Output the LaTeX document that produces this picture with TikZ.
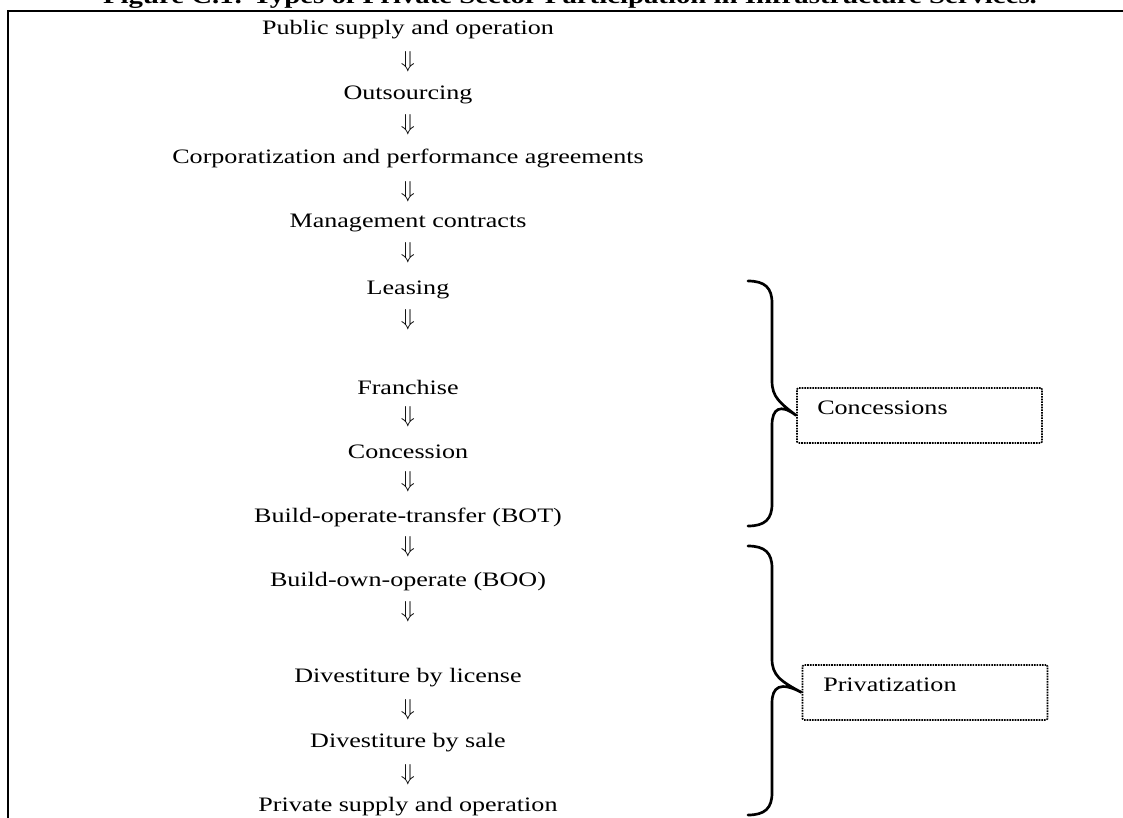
\documentclass[tikz,border=0pt]{standalone}
\usepackage{fontspec}
\setmainfont{Liberation Serif}[FakeStretch=1.27]
\begin{document}
\begin{tikzpicture}[x=0.75pt,y=-0.75pt,
  item/.style={inner sep=0pt, font=\fontsize{15.4}{18}\selectfont},
  arr/.style={inner sep=0pt, font=\fontsize{17}{20}\selectfont},
  tag/.style={draw, line width=1.2pt, dash pattern=on 1.2pt off 0.8pt, rounded corners=1pt,
    minimum width=245*0.75pt, minimum height=55*0.75pt, inner sep=0pt},
  tagtext/.style={inner sep=0pt, anchor=west, font=\fontsize{15.4}{18}\selectfont},
  brace/.style={line width=2pt, line cap=round},
  frame/.style={line width=2pt}]
\clip (0,0) rectangle (1123,817);
% title (cut off at the top, as in the reference)
\node[inner sep=0pt, anchor=base, font=\bfseries\fontsize{17}{20}\selectfont] (title) at (570,4)
  {Figure C.1: Types of Private Sector Participation in Infrastructure Services.};
% frame
\coordinate (fl) at (8,830);
\coordinate (ftl) at (8,11);
\coordinate (ftr) at (1130,11);
\draw[frame] (fl) -- (ftl) -- (ftr);
% chain
\node[item] (n1) at (408,30) {Public supply and operation};
\node[arr] (a1) at (408,62) {$\Downarrow$};
\node[item] (n2) at (408,95) {Outsourcing};
\node[arr] (a2) at (408,125) {$\Downarrow$};
\node[item] (n3) at (408,158) {Corporatization and performance agreements};
\node[arr] (a3) at (408,192) {$\Downarrow$};
\node[item] (n4) at (408,223) {Management contracts};
\node[arr] (a4) at (408,253) {$\Downarrow$};
\node[item] (n5) at (408,290) {Leasing};
\node[arr] (a5) at (408,320) {$\Downarrow$};
\node[item] (n6) at (408,387) {Franchise};
\node[arr] (a6) at (408,417) {$\Downarrow$};
\node[item] (n7) at (408,452) {Concession};
\node[arr] (a7) at (408,482) {$\Downarrow$};
\node[item] (n8) at (408,517) {Build-operate-transfer (BOT)};
\node[arr] (a8) at (408,547) {$\Downarrow$};
\node[item] (n9) at (408,582) {Build-own-operate (BOO)};
\node[arr] (a9) at (408,612) {$\Downarrow$};
\node[item] (n10) at (408,678) {Divestiture by license};
\node[arr] (a10) at (408,710) {$\Downarrow$};
\node[item] (n11) at (408,743) {Divestiture by sale};
\node[arr] (a11) at (408,775) {$\Downarrow$};
\node[item] (n12) at (408,807) {Private supply and operation};
% concessions
\node[tag] (conbox) at (919.5,415.5) {};
\node[tagtext] (contxt) at (817,408) {Concessions};
\coordinate (c1) at (748,281);
\coordinate (c2) at (748,526);
\draw[brace] (c1) .. controls (765,281) and (772,288) .. (772,303) -- (772,381)
  .. controls (772,397) and (780,403) .. (conbox.west)
  .. controls (780,403) and (772,409) .. (772,425) -- (772,504)
  .. controls (772,519) and (765,526) .. (c2);
% privatization
\node[tag] (prbox) at (925,692.5) {};
\node[tagtext] (prtxt) at (823,685) {Privatization};
\coordinate (p1) at (748,546);
\coordinate (p2) at (748,815);
\draw[brace] (p1) .. controls (765,546) and (772,553) .. (772,568) -- (772,659)
  .. controls (772,675) and (780,681) .. (prbox.west)
  .. controls (780,681) and (772,687) .. (772,703) -- (772,793)
  .. controls (772,808) and (765,815) .. (p2);
\end{tikzpicture}
\end{document}
